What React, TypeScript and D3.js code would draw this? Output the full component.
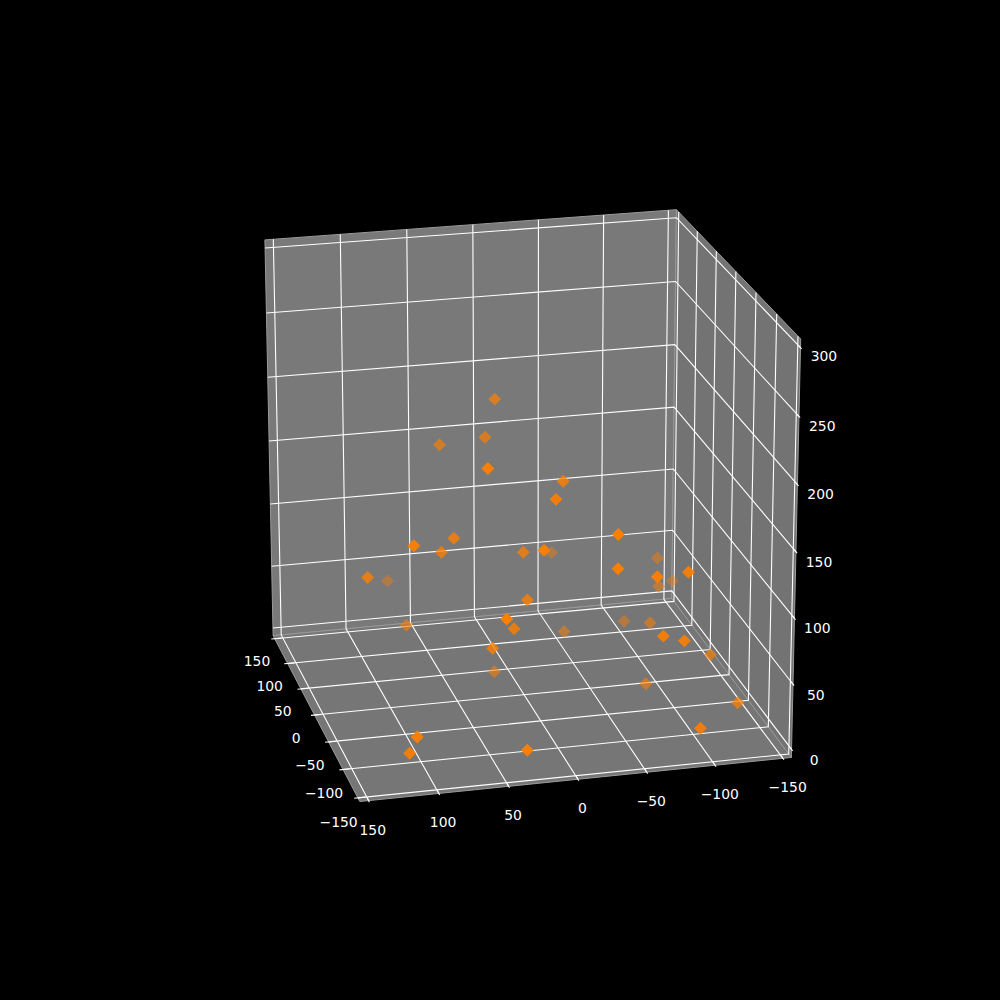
import React from "react";
import * as d3 from "d3";

const xTicks = [-150, -100, -50, 0, 50, 100, 150];
const yTicks = [-150, -100, -50, 0, 50, 100, 150];
const zTicks = [0, 50, 100, 150, 200, 250, 300];

const xs = [35,53,28,-97,-35,-77,-134,-123,63,-132,37,74,-117,-83,-12,-30,-25,126,-26,-106,103,-58,-135,-63,34,42,-64,26,53,10,-128,-133,-46,-23,-100,-149,-150,-129,-113];
const ys = [13,50,22,50,-20,-4,-34,-37,-118,-63,-112,-133,-90,100,64,59,121,74,7,12,-47,12,46,23,80,-41,39,16,-90,-98,-69,-83,-128,-86,-133,-91,35,109,111];
const zs = [212,174,186,209,171,174,166,136,66,131,54,42,126,151,116,133,107,42,116,148,62,92,111,73,43,23,60,3,22,37,84,81,31,3,15,20,17,26,7];

const W = 1000;
const elev = 20.5, azim = 166, D = 11, F = 4585, CX = 524, CY = 494.6;
const rad = Math.PI / 180;
const n = [Math.cos(elev*rad)*Math.cos(azim*rad), Math.cos(elev*rad)*Math.sin(azim*rad), Math.sin(elev*rad)];
const u = [-Math.sin(azim*rad), Math.cos(azim*rad), 0];
const v = [n[1]*u[2]-n[2]*u[1], n[2]*u[0]-n[0]*u[2], n[0]*u[1]-n[1]*u[0]];
const sx = d3.scaleLinear().domain([-150,150]).range([-0.5,0.5]);
const sy = d3.scaleLinear().domain([-150,150]).range([-0.5,0.5]);
const sz = d3.scaleLinear().domain([0,300]).range([-0.5,0.5]);
const dot = (a:number[],b:number[]) => a[0]*b[0]+a[1]*b[1]+a[2]*b[2];
function proj(x:number,y:number,z:number){
  const p=[sx(x),sy(y),sz(z)];
  const d=D-dot(p,n);
  return [CX+F*dot(p,u)/d, CY-F*dot(p,v)/d, d];
}
const xE=156.25, yE=156.25, zLo=-6.25, zHi=306.25;
const pathOf=(pts:number[][])=>d3.line()(pts.map(p=>{const q=proj(p[0],p[1],p[2]);return [q[0],q[1]] as [number,number];}))!;
const marker=d3.symbol().type(d3.symbolSquare).size(84)()!;

export default function App(){
  const grid:string[]=[]; const ticks:string[]=[]; const labels:any[]=[];
  const dx=312.5/12;
  xTicks.forEach(t=>{
    grid.push(pathOf([[t,yE,zLo],[t,-yE,zLo],[t,-yE,zHi]]));
    ticks.push(pathOf([[t,yE+0.1*dx,zLo],[t,yE-0.2*dx,zLo]]));
    labels.push({t,q:proj(t,yE+13.9,zLo-16.5)});
  });
  yTicks.forEach(t=>{
    grid.push(pathOf([[-xE,t,zLo],[xE,t,zLo],[xE,t,zHi]]));
    ticks.push(pathOf([[-xE-0.1*dx,t,zLo],[-xE+0.2*dx,t,zLo]]));
    labels.push({t,q:proj(-xE-12.6,t,zLo-16.5)});
  });
  zTicks.forEach(t=>{
    grid.push(pathOf([[-xE,-yE,t],[xE,-yE,t],[xE,yE,t]]));
    ticks.push(pathOf([[-xE-0.1*dx,-yE,t],[-xE+0.2*dx,-yE,t]]));
    labels.push({t,q:proj(-xE-21.6,-yE-10,t)});
  });
  const panes=[
    {c:"#797979",p:[[xE,yE,zLo],[xE,-yE,zLo],[xE,-yE,zHi],[xE,yE,zHi]]},
    {c:"#737373",p:[[xE,-yE,zLo],[-xE,-yE,zLo],[-xE,-yE,zHi],[xE,-yE,zHi]]},
    {c:"#767676",p:[[xE,yE,zLo],[xE,-yE,zLo],[-xE,-yE,zLo],[-xE,yE,zLo]]},
  ];
  const fmt=(t:number)=>(t<0?"\u2212"+(-t):""+t);
  const pts=xs.map((x,i)=>proj(x,ys[i],zs[i]));
  const [dn,df]=d3.extent(pts,p=>p[2]) as [number,number];
  const alpha=d3.scaleLinear().domain([dn,df]).range([1,0.4]);
  const sorted=[...pts].sort((a,b)=>b[2]-a[2]);
  return <svg width={W} height={W} style={{position:"absolute",left:0,top:0,background:"#000"}}>
    <rect width={W} height={W} fill="#000"/>
    {panes.map((p,i)=><path key={i} d={pathOf(p.p)+"Z"} fill={p.c} stroke="#9a9a9a" strokeWidth={1}/>)}
    {grid.map((d,i)=><path key={i} d={d} fill="none" stroke="#fff" strokeWidth={1.1}/>)}
    {ticks.map((d,i)=><path key={i} d={d} fill="none" stroke="#fff" strokeWidth={1.1}/>)}
    {labels.map((l,i)=><text key={i} x={l.q[0]} y={l.q[1]} textAnchor="middle" dominantBaseline="central" fill="#fff" fontFamily="DejaVu Sans" fontSize={13.9}>{fmt(l.t)}</text>)}
    {sorted.map((q,i)=><path key={i} d={marker} transform={`translate(${q[0]},${q[1]}) rotate(45)`} fill="#ff7f00" fillOpacity={alpha(q[2])}/>)}
  </svg>;
}
